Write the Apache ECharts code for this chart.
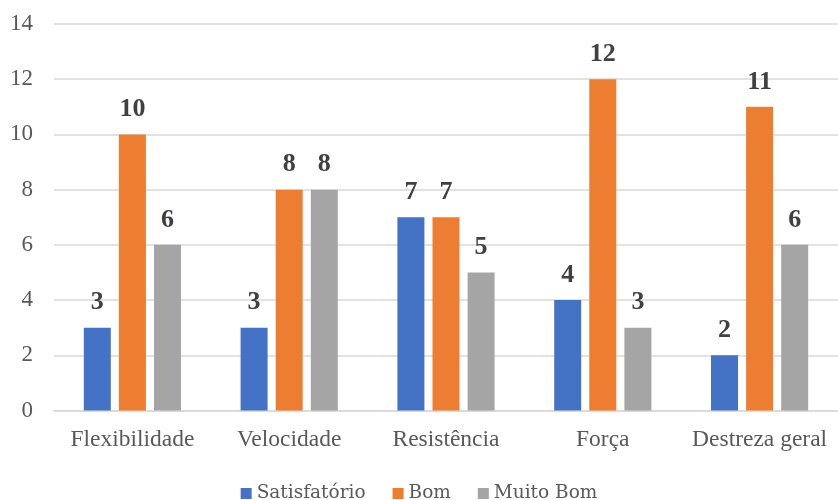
<!DOCTYPE html>
<html>
<head>
<meta charset="utf-8">
<script src="https://cdn.jsdelivr.net/npm/echarts@6/dist/echarts.min.js"></script>
<style>
  html, body { margin: 0; padding: 0; background: #fff; }
  #chart { width: 838px; height: 500px; }
</style>
</head>
<body>
<div id="chart"></div>
<script>
// Avaliação de capacidades físicas por nível
const categories = ['Flexibilidade', 'Velocidade', 'Resistência', 'Força', 'Destreza geral'];
const satisfatorio = [3, 3, 7, 4, 2];
const bom = [10, 8, 7, 12, 11];
const muitoBom = [6, 8, 5, 3, 6];
const yTicks = [0, 2, 4, 6, 8, 10, 12, 14];

const serif = 'Liberation Serif';
const labelStyle = {
  show: true,
  position: 'top',
  distance: 12,
  fontFamily: serif,
  fontSize: 26,
  fontWeight: 'bold',
  color: '#404040'
};

function barSeries(name, data, color) {
  return {
    name: name,
    type: 'bar',
    data: data,
    barWidth: 27,
    barGap: '30%',
    itemStyle: { color: color },
    label: labelStyle
  };
}

const chart = echarts.init(document.getElementById('chart'), null, { renderer: 'canvas' });
chart.setOption({
  animation: false,
  textStyle: { fontFamily: serif },
  grid: { left: 54, right: 0, top: 24, bottom: 89.5 },
  legend: [{
    top: 479,
    left: 'center',
    itemWidth: 11,
    itemHeight: 11,
    itemGap: 27,
    icon: 'rect',
    textStyle: {
      fontFamily: 'DejaVu Serif',
      fontSize: 18.5,
      color: '#595959'
    },
    data: ['Satisfatório', 'Bom', 'Muito Bom']
  }],
  xAxis: {
    type: 'category',
    data: categories,
    axisTick: { show: false },
    axisLine: { lineStyle: { color: '#D9D9D9', width: 1.5 } },
    axisLabel: { interval: 0, fontFamily: serif, fontSize: 23.5, color: '#595959', margin: 17 }
  },
  yAxis: {
    type: 'value',
    min: yTicks[0],
    max: yTicks[yTicks.length - 1],
    interval: 2,
    axisLine: { show: false },
    axisTick: { show: false },
    splitLine: { lineStyle: { color: '#D9D9D9', width: 1.5 } },
    axisLabel: { fontFamily: serif, fontSize: 23, color: '#595959', margin: 21 }
  },
  series: [
    barSeries('Satisfatório', satisfatorio, '#4472C4'),
    barSeries('Bom', bom, '#ED7D31'),
    barSeries('Muito Bom', muitoBom, '#A5A5A5')
  ]
});
</script>
</body>
</html>
